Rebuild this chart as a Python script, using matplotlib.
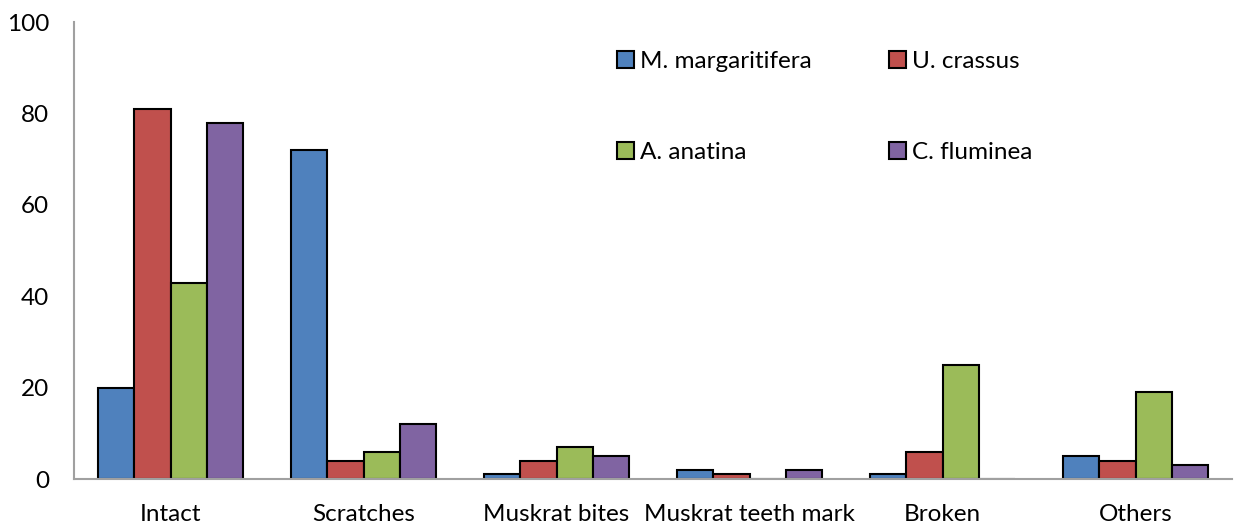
import matplotlib
matplotlib.use('Agg')
import matplotlib.pyplot as plt
import numpy as np

categories = ['Intact', 'Scratches', 'Muskrat bites', 'Muskrat teeth mark', 'Broken', 'Others']
species = ['M. margaritifera', 'U. crassus', 'A. anatina', 'C. fluminea']
margaritifera = [20, 72, 1, 2, 1, 5]
crassus = [81, 4, 4, 1, 6, 4]
anatina = [43, 6, 7, 0, 25, 19]
fluminea = [78, 12, 5, 2, 0, 3]
colors = ['#4f81bd', '#c0504d', '#9bbb59', '#8064a2']

plt.rcParams['font.family'] = ['Lato', 'DejaVu Sans']
fs = 17.5

fig = plt.figure(figsize=(12.4, 5.29), dpi=100)
ax = fig.add_axes([0.0597, 0.0945, 0.934, 0.8635])

x = np.arange(len(categories))
width = 0.1875
series = [margaritifera, crassus, anatina, fluminea]
bars = []
for i, (vals, name, c) in enumerate(zip(series, species, colors)):
    b = ax.bar(x + (i - 1.5) * width, vals, width, color=c, edgecolor='black',
               linewidth=1.5, label=name)
    bars.append(b)

ax.set_xlim(-0.5, len(categories) - 0.5)
ax.set_ylim(0, 100)
ax.set_yticks(range(0, 101, 20))
ax.set_xticks(x)
ax.set_xticklabels(categories, fontsize=fs)
ax.tick_params(axis='y', labelsize=fs, length=0, pad=18)
ax.tick_params(axis='x', length=0, pad=18)

for s in ['top', 'right']:
    ax.spines[s].set_visible(False)
for s in ['left', 'bottom']:
    ax.spines[s].set_color('#a0a0a0')
    ax.spines[s].set_linewidth(1.5)

# order so rows read: M, U / A, C
order = [0, 2, 1, 3]
ax.legend([bars[i] for i in order], [species[i] for i in order],
          loc='upper left', bbox_to_anchor=(0.488, 0.927), bbox_transform=fig.transFigure,
          ncol=2, frameon=False, fontsize=fs, handlelength=0.7, handleheight=0.7,
          handletextpad=0.25, labelspacing=2.9, columnspacing=3.15, borderpad=0)

plt.savefig('out.png', dpi=100)
